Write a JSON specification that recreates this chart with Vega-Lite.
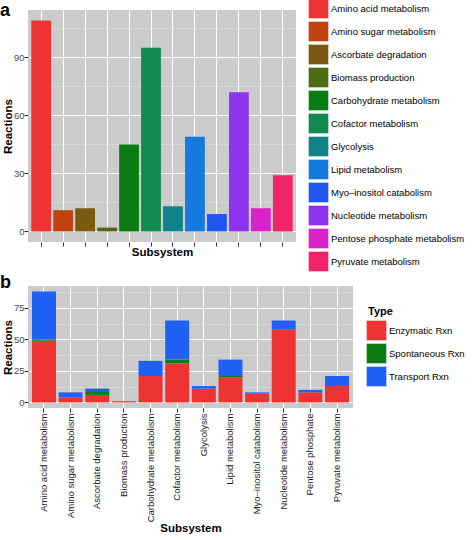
{
  "$schema": "https://vega.github.io/schema/vega-lite/v6.json",
  "padding": {"left": 0, "top": 0, "right": 0, "bottom": 0},
  "spacing": 1,
  "resolve": {"scale": {"color": "independent"}, "legend": {"color": "independent"}},
  "config": {
    "font": "Liberation Sans",
    "view": {"fill": "#CBCBCB", "stroke": null},
    "axis": {
      "domain": false,
      "tickColor": "#333333",
      "tickSize": 4,
      "labelPadding": 1,
      "labelColor": "#4D4D4D",
      "labelFontSize": 9.5,
      "labelFont": "Liberation Sans",
      "titleFont": "Liberation Sans",
      "titleFontSize": 11.5,
      "titleFontWeight": "bold",
      "titleColor": "#000000",
      "gridColor": "#FFFFFF",
      "gridWidth": 1,
      "minExtent": 0
    },
    "legend": {
      "symbolType": "M-1.25,-1.25H1.25V1.25H-1.25Z",
      "symbolSize": 264,
      "symbolStrokeColor": "#FFFFFF",
      "symbolStrokeWidth": 0.6,
      "symbolOpacity": 1,
      "rowPadding": 0,
      "padding": 0,
      "labelFontSize": 9.5,
      "labelColor": "#000000",
      "labelFont": "Liberation Sans",
      "titleFont": "Liberation Sans",
      "titleFontSize": 11,
      "titleFontWeight": "bold",
      "titleColor": "#000000",
      "labelOffset": 4
    },
    "title": {"fontSize": 18, "fontWeight": "bold", "anchor": "start", "frame": "group", "baseline": "alphabetic", "color": "#000000", "font": "Liberation Sans"}
  },
  "datasets": {
    "totals": [
      {"Subsystem": "Amino acid metabolism", "Reactions": 109},
      {"Subsystem": "Amino sugar metabolism", "Reactions": 11},
      {"Subsystem": "Ascorbate degradation", "Reactions": 12},
      {"Subsystem": "Biomass production", "Reactions": 2},
      {"Subsystem": "Carbohydrate metabolism", "Reactions": 45},
      {"Subsystem": "Cofactor metabolism", "Reactions": 95},
      {"Subsystem": "Glycolysis", "Reactions": 13},
      {"Subsystem": "Lipid metabolism", "Reactions": 49},
      {"Subsystem": "Myo–inositol catabolism", "Reactions": 9},
      {"Subsystem": "Nucleotide metabolism", "Reactions": 72},
      {"Subsystem": "Pentose phosphate metabolism", "Reactions": 12},
      {"Subsystem": "Pyruvate metabolism", "Reactions": 29}
    ],
    "bytype": [
      {"Subsystem": "Amino acid metabolism", "Type": "Enzymatic Rxn", "Reactions": 49},
      {"Subsystem": "Amino acid metabolism", "Type": "Spontaneous Rxn", "Reactions": 1},
      {"Subsystem": "Amino acid metabolism", "Type": "Transport Rxn", "Reactions": 38},
      {"Subsystem": "Amino sugar metabolism", "Type": "Enzymatic Rxn", "Reactions": 4},
      {"Subsystem": "Amino sugar metabolism", "Type": "Transport Rxn", "Reactions": 4},
      {"Subsystem": "Ascorbate degradation", "Type": "Enzymatic Rxn", "Reactions": 6},
      {"Subsystem": "Ascorbate degradation", "Type": "Spontaneous Rxn", "Reactions": 3},
      {"Subsystem": "Ascorbate degradation", "Type": "Transport Rxn", "Reactions": 2},
      {"Subsystem": "Biomass production", "Type": "Enzymatic Rxn", "Reactions": 1},
      {"Subsystem": "Carbohydrate metabolism", "Type": "Enzymatic Rxn", "Reactions": 21},
      {"Subsystem": "Carbohydrate metabolism", "Type": "Transport Rxn", "Reactions": 12},
      {"Subsystem": "Cofactor metabolism", "Type": "Enzymatic Rxn", "Reactions": 31},
      {"Subsystem": "Cofactor metabolism", "Type": "Spontaneous Rxn", "Reactions": 3},
      {"Subsystem": "Cofactor metabolism", "Type": "Transport Rxn", "Reactions": 31},
      {"Subsystem": "Glycolysis", "Type": "Enzymatic Rxn", "Reactions": 11},
      {"Subsystem": "Glycolysis", "Type": "Transport Rxn", "Reactions": 2},
      {"Subsystem": "Lipid metabolism", "Type": "Enzymatic Rxn", "Reactions": 20},
      {"Subsystem": "Lipid metabolism", "Type": "Spontaneous Rxn", "Reactions": 1},
      {"Subsystem": "Lipid metabolism", "Type": "Transport Rxn", "Reactions": 13},
      {"Subsystem": "Myo–inositol catabolism", "Type": "Enzymatic Rxn", "Reactions": 7},
      {"Subsystem": "Myo–inositol catabolism", "Type": "Transport Rxn", "Reactions": 1},
      {"Subsystem": "Nucleotide metabolism", "Type": "Enzymatic Rxn", "Reactions": 58},
      {"Subsystem": "Nucleotide metabolism", "Type": "Transport Rxn", "Reactions": 7},
      {"Subsystem": "Pentose phosphate", "Type": "Enzymatic Rxn", "Reactions": 8},
      {"Subsystem": "Pentose phosphate", "Type": "Transport Rxn", "Reactions": 2},
      {"Subsystem": "Pyruvate metabolism", "Type": "Enzymatic Rxn", "Reactions": 13},
      {"Subsystem": "Pyruvate metabolism", "Type": "Transport Rxn", "Reactions": 8}
    ]
  },
  "vconcat": [
    {
      "title": {"text": "a", "dx": -28, "offset": -20},
      "width": 268,
      "height": 232,
      "data": {"name": "totals"},
      "mark": {"type": "bar"},
      "encoding": {
        "x": {
          "field": "Subsystem", "type": "nominal", "sort": null,
          "scale": {"paddingInner": 0.1, "paddingOuter": 0.15},
          "axis": {"labels": false, "grid": true, "labelPadding": 0, "titlePadding": 0}
        },
        "y": {
          "field": "Reactions", "type": "quantitative",
          "scale": {"domain": [-5.45, 114.45], "nice": false, "zero": false},
          "axis": {
            "values": [0, 15, 30, 45, 60, 75, 90, 105],
            "labelExpr": "datum.value % 30 === 0 ? datum.label : ''",
            "tickOpacity": {"condition": {"test": "datum.value % 30 === 0", "value": 1}, "value": 0},
            "gridColor": {"condition": {"test": "datum.value % 30 === 0", "value": "#FFFFFF"}, "value": "#E4E4E4"},
            "gridWidth": {"condition": {"test": "datum.value % 30 === 0", "value": 1}, "value": 0.5},
            "labelPadding": 0,
            "titlePadding": 0
          }
        },
        "color": {
          "field": "Subsystem", "type": "nominal", "sort": null,
          "scale": {
            "domain": ["Amino acid metabolism", "Amino sugar metabolism", "Ascorbate degradation", "Biomass production", "Carbohydrate metabolism", "Cofactor metabolism", "Glycolysis", "Lipid metabolism", "Myo–inositol catabolism", "Nucleotide metabolism", "Pentose phosphate metabolism", "Pyruvate metabolism"],
            "range": ["#EE3333", "#C1440E", "#7A5A10", "#4B6B14", "#0A7D12", "#108A4E", "#0F8387", "#1679DE", "#2155F0", "#9033EE", "#D923C8", "#F02468"]
          },
          "legend": {"title": null, "orient": "none", "legendX": 282, "legendY": -10, "rowPadding": 0}
        }
      }
    },
    {
      "title": {"text": "b", "dx": -28, "offset": -6},
      "width": 325,
      "height": 122,
      "data": {"name": "bytype"},
      "mark": {"type": "bar"},
      "encoding": {
        "x": {
          "field": "Subsystem", "type": "nominal", "sort": null,
          "scale": {"paddingInner": 0.1, "paddingOuter": 0.15},
          "axis": {"labelAngle": -90, "grid": true, "labelPadding": 1, "titlePadding": 1, "labelColor": "#1A1A1A"}
        },
        "y": {
          "field": "Reactions", "type": "quantitative",
          "scale": {"domain": [-4.4, 92.4], "nice": false, "zero": false},
          "axis": {
            "values": [0, 12.5, 25, 37.5, 50, 62.5, 75, 87.5],
            "labelExpr": "datum.value % 25 === 0 ? datum.label : ''",
            "tickOpacity": {"condition": {"test": "datum.value % 25 === 0", "value": 1}, "value": 0},
            "gridColor": {"condition": {"test": "datum.value % 25 === 0", "value": "#FFFFFF"}, "value": "#E4E4E4"},
            "gridWidth": {"condition": {"test": "datum.value % 25 === 0", "value": 1}, "value": 0.5},
            "labelPadding": 0,
            "titlePadding": 0
          }
        },
        "color": {
          "field": "Type", "type": "nominal",
          "scale": {
            "domain": ["Enzymatic Rxn", "Spontaneous Rxn", "Transport Rxn"],
            "range": ["#EE3333", "#0A7D12", "#2160F5"]
          },
          "legend": {"title": "Type", "orient": "none", "legendX": 340, "legendY": 20, "titlePadding": 5, "rowPadding": 0}
        },
        "order": {"field": "Type", "sort": "ascending"}
      }
    }
  ]
}
